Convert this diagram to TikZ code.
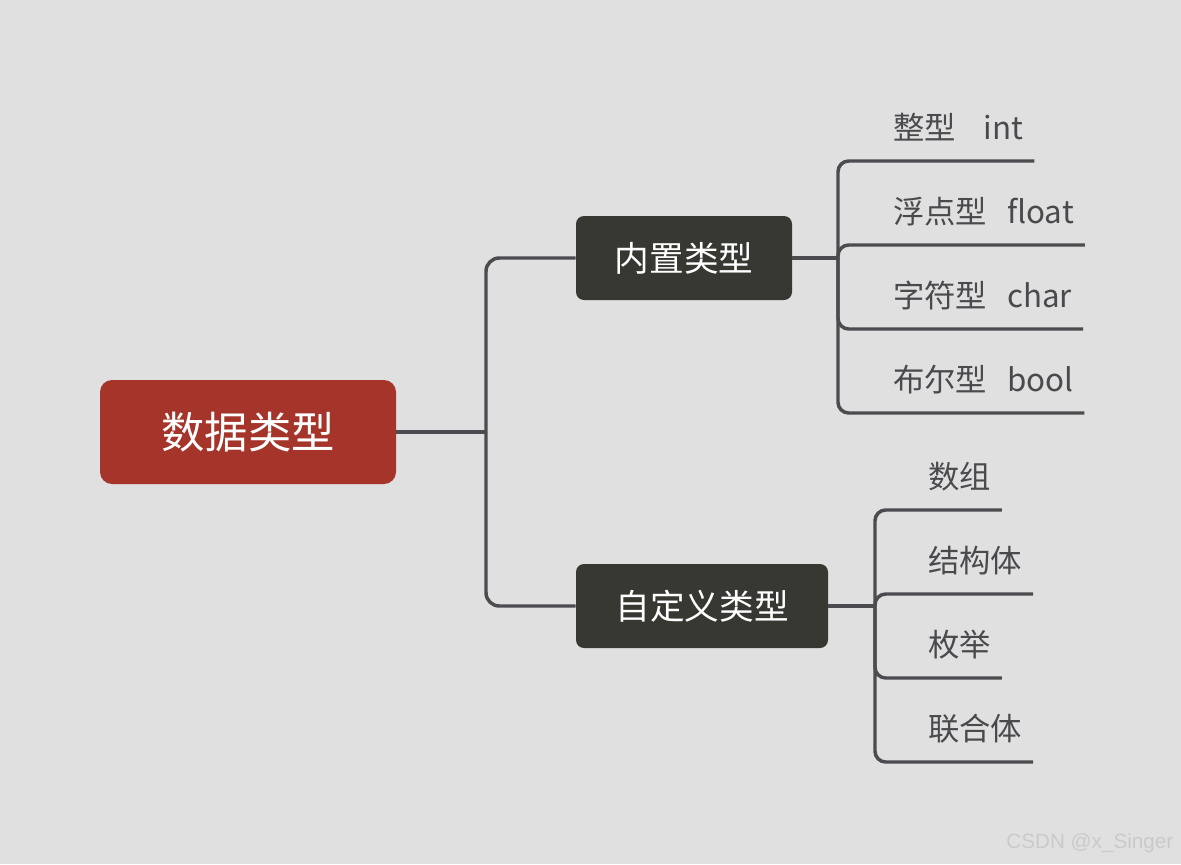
\documentclass[tikz,border=0pt]{standalone}
\usepackage{fontspec}
\setmainfont{Noto Sans CJK SC}
\newfontfamily\markfont{Liberation Sans}
\usepackage{tikz}
\usetikzlibrary{positioning}
\definecolor{pagebg}{HTML}{E0E0E0}
\definecolor{rootred}{HTML}{A5352A}
\definecolor{topicdark}{HTML}{383833}
\definecolor{linegray}{HTML}{4B4B50}
\definecolor{leafgray}{HTML}{4A4A4E}
\definecolor{markgray}{HTML}{CACACA}

\begin{document}
\begin{tikzpicture}[
    x=0.75pt, y=-0.75pt,
    root/.style={
        fill=rootred, rounded corners=9pt,
        minimum width=222pt, minimum height=78pt,
        text=white, font=\fontsize{32.5}{38}\selectfont
    },
    topic/.style={
        fill=topicdark, rounded corners=6pt,
        minimum height=63pt,
        text=white, font=\fontsize{26}{31}\selectfont
    },
    leaf/.style={
        anchor=base west, inner sep=0pt,
        text=leafgray, font=\fontsize{23.5}{28}\selectfont
    },
    conn/.style={draw=linegray, line width=2.6pt, rounded corners=10pt},
    twig/.style={draw=linegray, line width=2.6pt, rounded corners=8pt},
    wmark/.style={anchor=east, text=markgray, font=\markfont\fontsize{15.5}{18}\selectfont}
]
    % Background and page size
    \fill[pagebg] (0,0) rectangle (1181,864);

    % Root
    \node[root] (root) at (248,432) {数据类型};

    % Two main topics
    \node[topic, minimum width=162pt] (builtin) at (684,258) {内置类型};
    \node[topic, minimum width=189pt] (custom)  at (702,606) {自定义类型};

    \coordinate (hub) at (486,432);
    \draw[conn] (root.east) -- (hub);
    \draw[conn] (hub) |- (builtin.west);
    \draw[conn] (hub) |- (custom.west);

    % Built-in types
    \node[leaf] (int)   at (893,139) {整型\hspace{21pt}int};
    \node[leaf] (float) at (893,223) {浮点型\hspace{15pt}float};
    \node[leaf] (char)  at (893,307) {字符型\hspace{15pt}char};
    \node[leaf] (bool)  at (893,391) {布尔型\hspace{15pt}bool};

    \coordinate (bj) at (838,258);
    \draw[conn] (builtin.east) -- (bj);
    \draw[twig] (bj) |- ([yshift=-16.5pt]int.base west)   -- ([shift={(8pt,-16.5pt)}]int.base east);
    \draw[twig] (bj) |- ([yshift=-16.5pt]float.base west) -- ([shift={(8pt,-16.5pt)}]float.base east);
    \draw[twig] (bj) |- ([yshift=-16.5pt]char.base west)  -- ([shift={(8pt,-16.5pt)}]char.base east);
    \draw[twig] (bj) |- ([yshift=-16.5pt]bool.base west)  -- ([shift={(8pt,-16.5pt)}]bool.base east);

    % User-defined types
    \node[leaf] (array)  at (928,488) {数组};
    \node[leaf] (struct) at (928,572) {结构体};
    \node[leaf] (enum)   at (928,656) {枚举};
    \node[leaf] (union)  at (928,740) {联合体};

    \coordinate (cj) at (875,606);
    \draw[conn] (custom.east) -- (cj);
    \draw[twig] (cj) |- ([yshift=-16.5pt]array.base west)  -- ([shift={(8pt,-16.5pt)}]array.base east);
    \draw[twig] (cj) |- ([yshift=-16.5pt]struct.base west) -- ([shift={(8pt,-16.5pt)}]struct.base east);
    \draw[twig] (cj) |- ([yshift=-16.5pt]enum.base west)   -- ([shift={(8pt,-16.5pt)}]enum.base east);
    \draw[twig] (cj) |- ([yshift=-16.5pt]union.base west)  -- ([shift={(8pt,-16.5pt)}]union.base east);

    % Watermark
    \node[wmark] (wm) at (1178,843) {CSDN @x\_Singer};
\end{tikzpicture}
\end{document}
